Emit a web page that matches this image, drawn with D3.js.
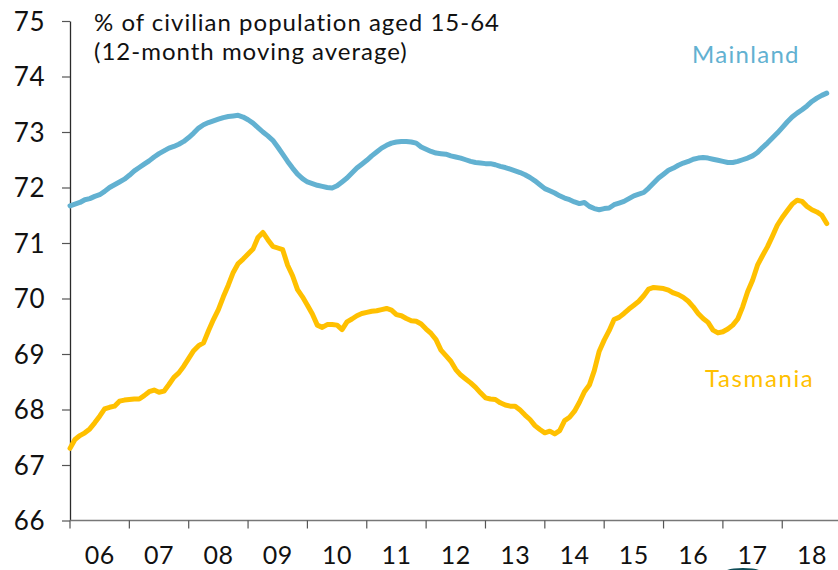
<!DOCTYPE html>
<html>
<head>
<meta charset="utf-8">
<script src="https://cdn.jsdelivr.net/npm/d3@7/dist/d3.min.js"></script>
<style>
  html, body { margin: 0; padding: 0; background: #fff; }
  svg { display: block; }
  text { font-family: Lato, "Open Sans", sans-serif; }
</style>
</head>
<body>
<svg id="chart" width="838" height="570"></svg>
<script>
// Participation rate, % of civilian population aged 15-64 (12-month moving average)
// Monthly observations from Jan 2006 to Oct 2018
const years = ["06","07","08","09","10","11","12","13","14","15","16","17","18"];
const yTicks = [66, 67, 68, 69, 70, 71, 72, 73, 74, 75];

const mainland = [
  71.67,71.70,71.73,71.78,71.80,71.84,71.87,71.93,72.00,72.05,72.10,72.15,
  72.22,72.30,72.36,72.42,72.48,72.55,72.61,72.66,72.71,72.74,72.78,72.83,
  72.90,72.98,73.07,73.13,73.17,73.20,73.23,73.26,73.28,73.29,73.30,73.27,
  73.22,73.16,73.08,73.00,72.93,72.85,72.73,72.60,72.47,72.35,72.24,72.16,
  72.10,72.07,72.04,72.02,72.00,71.99,72.03,72.10,72.17,72.26,72.35,72.42,
  72.49,72.57,72.64,72.71,72.76,72.80,72.82,72.83,72.83,72.82,72.80,72.73,
  72.69,72.65,72.62,72.61,72.60,72.57,72.55,72.53,72.50,72.47,72.45,72.44,
  72.43,72.43,72.41,72.38,72.36,72.33,72.30,72.27,72.23,72.18,72.12,72.05,
  71.98,71.94,71.90,71.85,71.81,71.78,71.74,71.71,71.73,71.66,71.62,71.60,
  71.62,71.63,71.69,71.72,71.75,71.80,71.85,71.88,71.91,71.99,72.08,72.17,
  72.24,72.31,72.35,72.40,72.44,72.47,72.51,72.53,72.54,72.53,72.51,72.49,
  72.47,72.45,72.45,72.47,72.50,72.53,72.57,72.63,72.72,72.80,72.89,72.98,
  73.08,73.18,73.27,73.34,73.40,73.47,73.55,73.61,73.66,73.70
];

const tasmania = [
  67.30,67.46,67.53,67.58,67.65,67.76,67.88,68.01,68.04,68.06,68.15,68.17,
  68.18,68.19,68.19,68.25,68.32,68.35,68.31,68.33,68.45,68.58,68.66,68.78,
  68.92,69.06,69.15,69.20,69.42,69.62,69.80,70.03,70.24,70.47,70.63,70.71,
  70.80,70.89,71.10,71.19,71.06,70.94,70.91,70.88,70.60,70.41,70.16,70.03,
  69.88,69.72,69.52,69.48,69.53,69.53,69.52,69.44,69.58,69.63,69.69,69.73,
  69.75,69.77,69.78,69.80,69.82,69.79,69.71,69.69,69.64,69.60,69.59,69.54,
  69.45,69.37,69.26,69.07,68.97,68.87,68.72,68.62,68.55,68.48,68.40,68.30,
  68.21,68.19,68.18,68.12,68.08,68.06,68.06,67.99,67.90,67.82,67.71,67.64,
  67.58,67.61,67.56,67.62,67.80,67.86,67.97,68.13,68.32,68.44,68.70,69.05,
  69.25,69.42,69.62,69.66,69.73,69.81,69.88,69.95,70.05,70.17,70.20,70.19,
  70.18,70.15,70.10,70.07,70.02,69.95,69.85,69.73,69.64,69.57,69.43,69.38,
  69.40,69.45,69.52,69.63,69.85,70.12,70.33,70.60,70.77,70.93,71.12,71.32,
  71.46,71.58,71.70,71.77,71.75,71.66,71.60,71.56,71.50,71.35
];

const colors = { mainland: "#62b1d1", tasmania: "#ffc000" };

const svg = d3.select("#chart");
const margin = { left: 70, top: 21, bottom: 520.5 };

// x: month index from Jan 2006 (0) to Jan 2019 (156)
const x = d3.scaleLinear().domain([0, 156]).range([margin.left, 841.6]);
const y = d3.scaleLinear().domain([66, 75]).range([margin.bottom, margin.top]);

// y axis
const yAxis = d3.axisLeft(y)
  .tickValues(yTicks)
  .tickFormat(d3.format("d"))
  .tickSize(8)
  .tickSizeOuter(0)
  .tickPadding(17);
const gy = svg.append("g")
  .attr("transform", `translate(${margin.left},0)`)
  .call(yAxis);
gy.select(".domain").attr("stroke", "#2b2b2b").attr("stroke-width", 1.3);
gy.selectAll(".tick line").attr("stroke", "#555").attr("stroke-width", 1.2);
gy.selectAll(".tick text")
  .attr("fill", "#111")
  .style("font-size", "26px")
  .style("letter-spacing", "0.5px")
  .attr("dy", "0.36em");

// x axis: ticks at year boundaries, labels centred within each year
const gx = svg.append("g").attr("transform", `translate(0,${margin.bottom})`);
gx.append("line")
  .attr("x1", margin.left).attr("x2", 838)
  .attr("y1", 0).attr("y2", 0)
  .attr("stroke", "#777").attr("stroke-width", 1.3);
gx.selectAll("line.tick")
  .data(years)
  .join("line")
  .attr("class", "tick")
  .attr("x1", (d, i) => x(i * 12)).attr("x2", (d, i) => x(i * 12))
  .attr("y1", 0).attr("y2", 8)
  .attr("stroke", "#555").attr("stroke-width", 1.2);
gx.selectAll("text")
  .data(years)
  .join("text")
  .attr("x", (d, i) => x(i * 12 + 6))
  .attr("y", 43.8)
  .attr("text-anchor", "middle")
  .attr("fill", "#111")
  .style("font-size", "25px")
  .style("letter-spacing", "0.5px")
  .text(d => d);

// series lines
const line = d3.line()
  .x((d, i) => x(i))
  .y(d => y(d))
  .curve(d3.curveLinear);

svg.append("path")
  .datum(tasmania)
  .attr("d", line)
  .attr("fill", "none")
  .attr("stroke", colors.tasmania)
  .attr("stroke-width", 5)
  .attr("stroke-linejoin", "round")
  .attr("stroke-linecap", "round");

svg.append("path")
  .datum(mainland)
  .attr("d", line)
  .attr("fill", "none")
  .attr("stroke", colors.mainland)
  .attr("stroke-width", 5)
  .attr("stroke-linejoin", "round")
  .attr("stroke-linecap", "round");

// titles and series labels
const titleLines = ["% of civilian population aged 15-64", "(12-month moving average)"];
svg.selectAll("text.title")
  .data(titleLines)
  .join("text")
  .attr("class", "title")
  .attr("x", 94).attr("y", (d, i) => 31 + i * 29)
  .attr("fill", "#111")
  .style("font-size", "24px")
  .style("letter-spacing", "1px")
  .text(d => d);

svg.append("text")
  .attr("x", 692).attr("y", 63)
  .attr("fill", colors.mainland)
  .style("font-size", "24px")
  .style("letter-spacing", "1.3px")
  .text("Mainland");
svg.append("text")
  .attr("x", 705).attr("y", 387)
  .attr("fill", colors.tasmania)
  .style("font-size", "24px")
  .style("letter-spacing", "1.6px")
  .text("Tasmania");

// corner emblem, cut off by the bottom edge
svg.append("ellipse")
  .attr("cx", 743).attr("cy", 576)
  .attr("rx", 24).attr("ry", 8)
  .attr("fill", "#0f4d58");
</script>
</body>
</html>
